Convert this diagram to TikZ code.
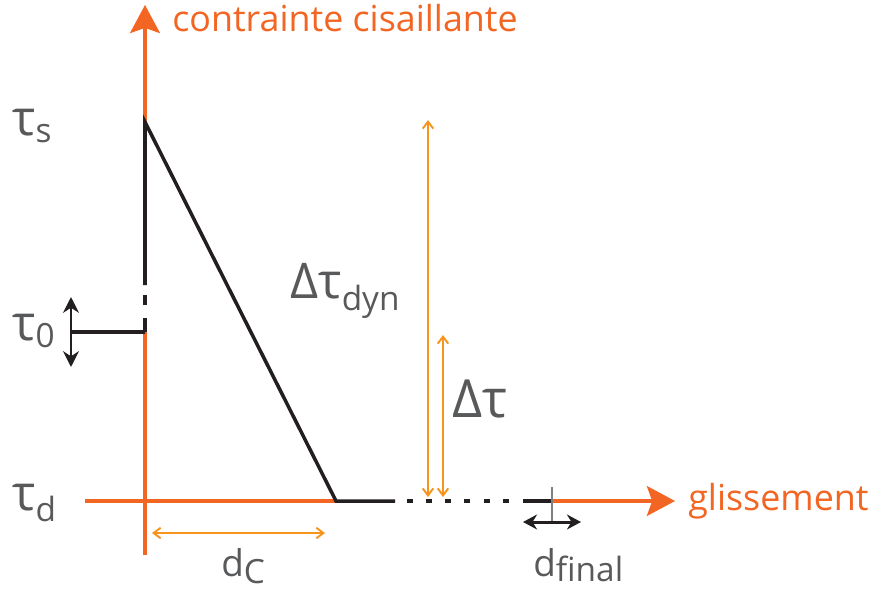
\documentclass[tikz,border=0pt]{standalone}
\usepackage{fontspec}
\setmainfont{Open Sans}
\usetikzlibrary{arrows.meta}

\definecolor{axisorange}{HTML}{F26522}
\definecolor{lightorange}{HTML}{F7941D}
\definecolor{curveblack}{HTML}{231F20}
\definecolor{labelgray}{HTML}{58595B}

\newcommand{\bigsym}[1]{{\fontsize{28}{28}\selectfont #1}}
\newcommand{\subsym}[2]{\raisebox{#1}{\fontsize{19}{19}\selectfont #2}}

\begin{document}
\begin{tikzpicture}[x=0.02cm, y=-0.02cm,
    axis/.style={draw=axisorange, line width=1.8pt},
    curve/.style={draw=curveblack, line width=2pt},
    span/.style={draw=lightorange, line width=1.1pt, {Straight Barb[length=4pt,width=6pt]}-{Straight Barb[length=4pt,width=6pt]}},
    axisname/.style={text=axisorange, anchor=base west, inner sep=0pt, font=\fontsize{20.4}{20.4}\selectfont},
    valtext/.style={text=labelgray, anchor=base west, inner sep=0pt}]
    \useasboundingbox (0,0) rectangle (873,589);
    \coordinate (peak) at (145,122);
    \coordinate (start) at (145,332);
    \coordinate (slipEnd) at (336,501);
    \coordinate (final) at (552,501);
    % axes
    \draw[axis] (145,555) -- (start);
    \draw[axis, -{Stealth[length=16pt, width=17pt, inset=3pt]}] (peak) -- (145,5) coordinate (yTip);
    \draw[axis] (85,501) -- (slipEnd);
    \draw[axis, -{Stealth[length=16pt, width=17pt, inset=3pt]}] (final) -- (675,501) coordinate (xTip);
    \node[axisname] (yName) at (172,31) {contrainte cisaillante};
    \node[axisname] (xName) at (688,510) {glissement};
    % stress path
    \draw[curve] (start) -- (145,318);
    \draw[curve] (145,305) -- (145,295);
    \draw[curve, line join=miter] (145,285) -- (peak) -- (slipEnd) -- (395,501);
    \draw[curve, dash pattern=on 3.4pt off 7.5pt] (407,501) -- (509,501);
    \draw[curve] (523,501) -- (final);
    \draw[curve] (start) -- (71,332) coordinate (tauLeft);
    \draw[curve, line width=1.7pt, {Stealth[length=9pt, width=9pt]}-{Stealth[length=9pt, width=9pt]}] (71,297) -- (71,367);
    \draw[gray, line width=1.3pt] (552,487) -- (552,522);
    \draw[curve, line width=1.7pt, {Stealth[length=8pt, width=8.5pt]}-{Stealth[length=8pt, width=8.5pt]}] (523,522) -- (581,522);
    % drops
    \draw[span] (152,533) -- (325,533);
    \draw[span] (428,497) -- (428,120);
    \draw[span] (443,497) -- (443,335);
    % labels
    \node[valtext] (tauS) at (12,135) {\bigsym{τ}\subsym{-4.5pt}{s}};
    \node[valtext] (tauZero) at (12,340) {\bigsym{τ}\subsym{-4.5pt}{0}};
    \node[valtext] (tauD) at (12,510) {\bigsym{τ}\subsym{-6.5pt}{d}};
    \node[valtext] (dTauDyn) at (290,298) {\bigsym{Δτ}\subsym{-7pt}{dyn}};
    \node[valtext] (dTau) at (452,417) {\fontsize{30}{30}\selectfont Δτ};
    \node[valtext] (dC) at (221,576) {\fontsize{21}{21}\selectfont d\subsym{-4pt}{C}};
    \node[valtext] (dFinal) at (533,576) {\fontsize{21}{21}\selectfont d\subsym{-3pt}{final}};
\end{tikzpicture}
\end{document}
